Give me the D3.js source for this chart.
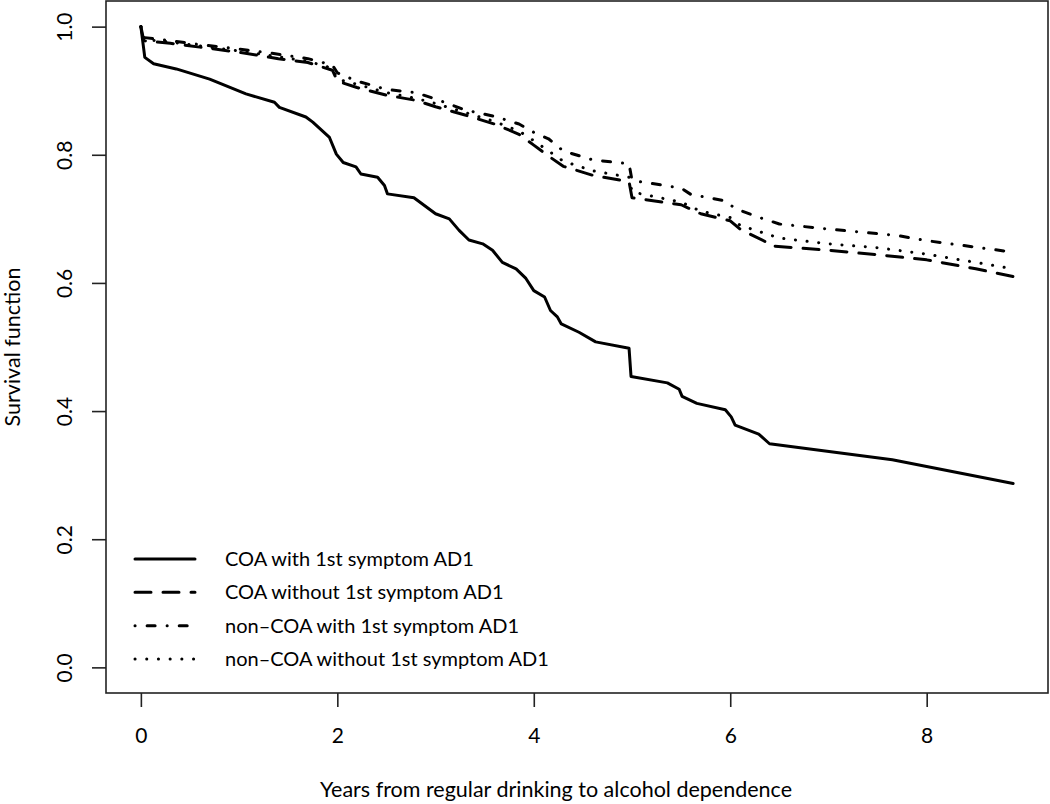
<!DOCTYPE html>
<html>
<head>
<meta charset="utf-8">
<script src="https://cdn.jsdelivr.net/npm/d3@7"></script>
<style>
  html, body { margin: 0; padding: 0; background: #fff; }
  svg { display: block; }
  text { font-family: Lato, "Open Sans", sans-serif; fill: #000; }
</style>
</head>
<body>
<svg id="chart" width="1050" height="804"></svg>
<script>
// ---- data ----
const xTicks = [0, 2, 4, 6, 8];
const yTicks = [0.0, 0.2, 0.4, 0.6, 0.8, 1.0];
const xTitle = "Years from regular drinking to alcohol dependence";
const yTitle = "Survival function";

const seriesNames = [
  "COA with 1st symptom AD1",
  "COA without 1st symptom AD1",
  "non\u2013COA with 1st symptom AD1",
  "non\u2013COA without 1st symptom AD1"
];

const coaWith = [
  [0,1.0],[0.04,0.952],[0.13,0.942],[0.36,0.934],[0.70,0.918],[1.07,0.895],[1.36,0.882],[1.41,0.874],
  [1.68,0.859],[1.75,0.851],[1.92,0.827],[1.99,0.801],[2.06,0.788],[2.19,0.781],[2.24,0.770],[2.41,0.765],
  [2.48,0.752],[2.51,0.739],[2.78,0.733],[3.0,0.708],[3.14,0.700],[3.24,0.682],[3.34,0.667],[3.48,0.661],
  [3.58,0.651],[3.68,0.632],[3.82,0.622],[3.92,0.607],[4.0,0.588],[4.11,0.578],[4.17,0.557],[4.24,0.547],
  [4.28,0.536],[4.46,0.523],[4.63,0.508],[4.97,0.498],[4.99,0.454],[5.36,0.444],[5.48,0.434],[5.51,0.423],
  [5.66,0.412],[5.95,0.402],[6.01,0.391],[6.05,0.378],[6.29,0.364],[6.40,0.349],[7.65,0.324],[8.88,0.287]
];
const coaWithout = [
  [0,1.0],[0.03,0.978],[0.3,0.974],[0.6,0.968],[1.0,0.960],[1.4,0.950],[1.7,0.944],[1.95,0.932],
  [2.0,0.915],[2.2,0.905],[2.5,0.893],[2.8,0.885],[3.0,0.875],[3.3,0.862],[3.6,0.848],[3.85,0.832],
  [4.0,0.815],[4.15,0.798],[4.3,0.782],[4.6,0.768],[4.97,0.758],[5.0,0.733],[5.5,0.722],[5.7,0.708],
  [6.0,0.697],[6.1,0.684],[6.35,0.665],[6.4,0.658],[7.0,0.651],[7.5,0.644],[8.0,0.636],[8.5,0.622],[8.88,0.610]
];
const nonCoaWith = [
  [0,1.0],[0.03,0.983],[0.3,0.978],[0.6,0.972],[1.0,0.965],[1.4,0.957],[1.7,0.950],[1.95,0.940],
  [2.0,0.928],[2.2,0.915],[2.5,0.902],[2.8,0.897],[3.0,0.887],[3.3,0.870],[3.6,0.860],[3.85,0.848],
  [4.0,0.835],[4.15,0.825],[4.3,0.806],[4.6,0.792],[4.97,0.786],[5.0,0.760],[5.5,0.748],[5.6,0.738],
  [5.95,0.728],[6.05,0.716],[6.3,0.702],[6.5,0.692],[7.0,0.684],[7.7,0.674],[8.0,0.666],[8.88,0.648]
];
const nonCoaWithout = [
  [0,1.0],[0.03,0.980],[0.3,0.976],[0.6,0.970],[1.0,0.962],[1.4,0.953],[1.7,0.946],[1.95,0.935],
  [2.0,0.918],[2.2,0.910],[2.5,0.897],[2.8,0.888],[3.0,0.880],[3.3,0.866],[3.6,0.852],[3.85,0.837],
  [4.0,0.822],[4.15,0.806],[4.3,0.790],[4.6,0.775],[4.97,0.765],[5.0,0.742],[5.5,0.726],[5.7,0.712],
  [6.0,0.702],[6.1,0.690],[6.3,0.680],[6.5,0.670],[7.0,0.661],[7.5,0.655],[8.0,0.645],[8.5,0.632],[8.88,0.622]
];

const seriesData = [coaWith, coaWithout, nonCoaWith, nonCoaWithout];
const dashes = [null, "16,12", "0.1,12,8,12", "0.1,11.6"];

// ---- layout ----
const plot = { left: 106, right: 1048, top: 1, bottom: 693 };
const tickFont = 21, legendFont = 20, titleFont = 21.5;
const svg = d3.select("#chart");

const x = d3.scaleLinear().domain([-0.355, 9.235]).range([plot.left, plot.right]);
const y = d3.scaleLinear().domain([-0.04, 1.04]).range([plot.bottom, plot.top]);

// frame
svg.append("rect")
  .attr("x", plot.left).attr("y", plot.top)
  .attr("width", plot.right - plot.left).attr("height", plot.bottom - plot.top)
  .attr("fill", "none").attr("stroke", "#222").attr("stroke-width", 1.6);

// x axis
const xAxis = d3.axisBottom(x).tickValues(xTicks).tickSize(14).tickPadding(21)
  .tickFormat(d3.format("d"));
const gx = svg.append("g").attr("transform", `translate(0,${plot.bottom})`).call(xAxis);
gx.select(".domain").remove();
gx.selectAll("line").attr("stroke", "#222").attr("stroke-width", 1.6);
gx.selectAll("text").attr("font-size", tickFont).attr("font-family", "Lato, sans-serif").attr("fill", "#000");

// y axis
const yAxis = d3.axisLeft(y).tickValues(yTicks).tickSize(14).tickFormat(d3.format(".1f"));
const gy = svg.append("g").attr("transform", `translate(${plot.left},0)`).call(yAxis);
gy.select(".domain").remove();
gy.selectAll("line").attr("stroke", "#222").attr("stroke-width", 1.6);
gy.selectAll("text")
  .attr("font-size", tickFont).attr("font-family", "Lato, sans-serif").attr("fill", "#000")
  .attr("x", null)
  .attr("text-anchor", "middle")
  .attr("transform", "translate(-41,0) rotate(-90)")
  .attr("dy", "0.35em");

// titles
svg.append("text")
  .attr("x", 556).attr("y", 797)
  .attr("text-anchor", "middle").attr("font-size", titleFont)
  .text(xTitle);
svg.append("text")
  .attr("transform", `translate(20,${(plot.top + plot.bottom) / 2}) rotate(-90)`)
  .attr("text-anchor", "middle").attr("font-size", titleFont)
  .text(yTitle);

// curves
const line = d3.line().x(d => x(d[0])).y(d => y(d[1]));
const g = svg.append("g");
seriesData.forEach((data, i) => {
  g.append("path")
    .datum(data)
    .attr("d", line)
    .attr("fill", "none")
    .attr("stroke", "#000")
    .attr("stroke-width", 3)
    .attr("stroke-linecap", "round")
    .attr("stroke-linejoin", "round")
    .attr("stroke-dasharray", dashes[i]);
});

// legend
const legendY = d3.scaleLinear().domain([0, 3]).range([559, 659]);
const lg = svg.append("g");
seriesNames.forEach((name, i) => {
  const yy = legendY(i);
  lg.append("line")
    .attr("x1", 135).attr("x2", 195).attr("y1", yy).attr("y2", yy)
    .attr("stroke", "#000").attr("stroke-width", 3)
    .attr("stroke-linecap", "round")
    .attr("stroke-dasharray", dashes[i]);
  lg.append("text")
    .attr("x", 225).attr("y", yy).attr("dy", "0.35em")
    .attr("font-size", legendFont)
    .text(name);
});
</script>
</body>
</html>
